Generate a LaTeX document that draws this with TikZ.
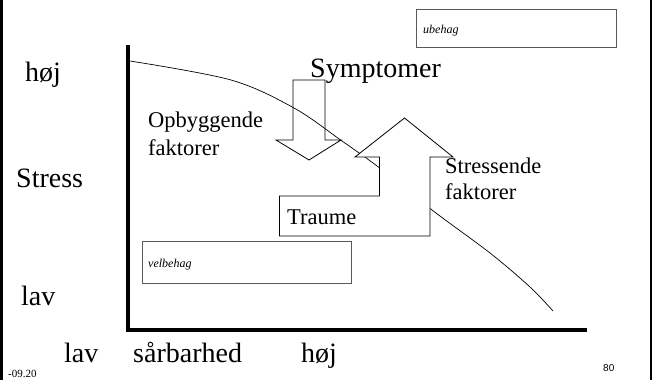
\documentclass[tikz,border=0pt]{standalone}
\usepackage{fontspec}
\setmainfont{Liberation Serif}
\setsansfont{Liberation Sans}
\begin{document}
\begin{tikzpicture}[x=1pt,y=-1pt,
  big/.style={inner sep=0pt,anchor=base west,font=\fontsize{28}{32}\selectfont},
  mid/.style={inner sep=0pt,anchor=base west,font=\fontsize{22.5}{27}\selectfont},
  tiny/.style={inner sep=0pt,anchor=base west,font=\fontsize{12}{14}\selectfont\itshape},
  note/.style={inner sep=0pt,anchor=base west,font=\fontsize{11}{13}\selectfont},
  frame/.style={line width=2.5pt,black},
  axis/.style={line width=3.8pt,black},
  arrowshape/.style={draw=black,line width=0.8pt,line join=miter},
  greybox/.style={draw=black!65,line width=0.9pt}]
\useasboundingbox (0,0) rectangle (655,380);
% frame lines
\draw[frame] (1.3,0) -- (1.3,380);
\draw[frame] (651,0) -- (651,380);
% boxes
\draw[greybox] (416,9) rectangle (616,47);
\node[tiny] (ube) at (423,33) {ubehag};
\draw[greybox] (142,241) rectangle (351,283);
\node[tiny] (vel) at (148,267) {velbehag};
% curve
\draw[line width=0.7pt] plot[smooth,tension=0.55] coordinates {(130,61) (231,80) (294,108) (342,141) (381,169) (432,210) (490,253) (530,287) (553,311)};
% down arrow (Symptomer)
\draw[arrowshape] (293,80) -- (325,80) -- (325,140) -- (341,140) -- (309,160) -- (276,140) -- (293,140) -- cycle;
% bent up arrow (Traume / Stressende)
\draw[arrowshape,fill=white] (404.5,118) -- (453,157) -- (430,157) -- (430,236) -- (279.5,236) -- (279.5,196) -- (379.5,196) -- (379.5,157) -- (355,157) -- cycle;
% axes
\draw[axis] (128,45) -- (128,331.9);
\draw[axis] (126.1,330) -- (587,330);
% labels
\node[big] (hojL) at (25,81) {høj};
\node[big] (stress) at (16,187) {Stress};
\node[big] (lavL) at (21,305) {lav};
\node[big] (lavB) at (64,362) {lav};
\node[big] (sarb) at (133,362) {sårbarhed};
\node[big] (hojB) at (301,362) {høj};
\node[big] (sympt) at (310,77) {Symptomer};
\node[mid] (opb1) at (148,127) {Opbyggende};
\node[mid] (opb2) at (148,155) {faktorer};
\node[mid] (str1) at (445,173) {Stressende};
\node[mid] (str2) at (445,199) {faktorer};
\node[mid] (traume) at (287,224) {Traume};
\node[note] (date) at (8,377) {-09.20};
\node[inner sep=0pt,anchor=base west,font=\sffamily\fontsize{10}{12}\selectfont] (page) at (603,371) {80};
\end{tikzpicture}
\end{document}
